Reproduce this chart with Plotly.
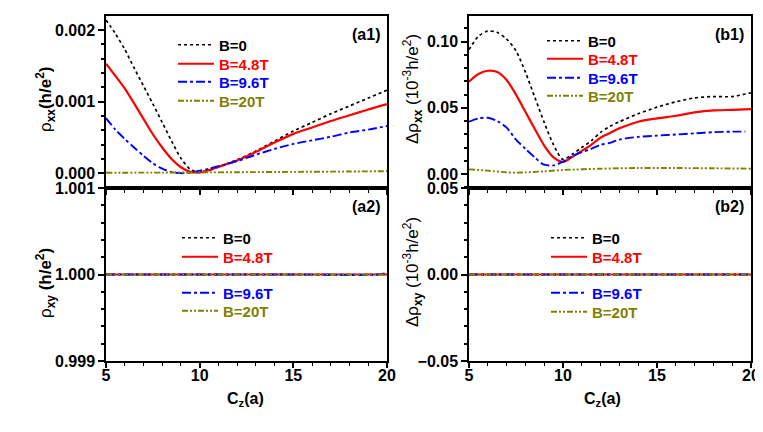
import plotly.graph_objects as go

# ---- data ----
cz_a = [5, 5.5, 6, 6.5, 7, 7.5, 8, 8.5, 9, 9.5, 10, 10.5, 11, 12, 13, 14, 15, 16, 17, 18, 19, 20]
rho_xx_B0 = [0.00214, 0.00195, 0.00173, 0.00147, 0.00122, 0.00097, 0.00071, 0.00045, 0.00021, 0.000056, 0.00001,
             0.00004, 0.00009, 0.00019, 0.00031, 0.00045, 0.00059, 0.00071, 0.00083, 0.00094, 0.00105, 0.00116]
rho_xx_B48 = [0.00153, 0.00136, 0.001185, 0.000975, 0.00076, 0.000545, 0.00036, 0.0002, 0.000085, 0.00002, 0.000015,
              0.000045, 0.00009, 0.00018, 0.0003, 0.00043, 0.00055, 0.00064, 0.00073, 0.00081, 0.00089, 0.000965]
rho_xx_B96 = [0.00077, 0.00061, 0.00048, 0.00036, 0.000245, 0.00014, 0.000065, 0.000018, 0.000002, 0.000012, 0.000035,
              0.000065, 0.0001, 0.00017, 0.00026, 0.00034, 0.00041, 0.00046, 0.00051, 0.00057, 0.00061, 0.00066]
cz_a20 = [5, 8, 10, 12, 15, 18, 20]
rho_xx_B20 = [0.000008, 0.00001, 0.000012, 0.000015, 0.00002, 0.000025, 0.00003]

cz_b = [5, 5.5, 6, 6.5, 7, 7.5, 8, 8.5, 9, 9.5, 10, 10.5, 11, 11.5, 12, 12.5, 13, 14, 15, 16, 17, 18, 19, 20]
drho_xx_B0 = [0.094, 0.104, 0.108, 0.107, 0.102, 0.093, 0.077, 0.058, 0.039, 0.022, 0.011, 0.015, 0.020, 0.025,
              0.0315, 0.036, 0.0395, 0.0455, 0.0505, 0.0545, 0.0575, 0.0585, 0.0585, 0.0614]
drho_xx_B48 = [0.0697, 0.0755, 0.078, 0.077, 0.071, 0.060, 0.047, 0.034, 0.0215, 0.0125, 0.009, 0.013, 0.0175, 0.022,
               0.0275, 0.031, 0.0345, 0.0395, 0.042, 0.044, 0.0465, 0.048, 0.0485, 0.049]
cz_b96 = [5, 5.5, 6, 6.5, 7, 7.5, 8, 8.5, 9, 9.5, 10, 10.5, 11, 11.5, 12, 12.5, 13, 14, 15, 16, 17, 18, 19, 19.7]
drho_xx_B96 = [0.0395, 0.042, 0.0425, 0.040, 0.035, 0.026, 0.019, 0.0125, 0.007, 0.0065, 0.0093, 0.0135, 0.0165, 0.019,
               0.022, 0.0235, 0.026, 0.028, 0.029, 0.0298, 0.0307, 0.0316, 0.032, 0.032]
cz_b20 = [5, 6, 7, 7.5, 8, 9, 10, 12, 14, 16, 18, 20]
drho_xx_B20 = [0.0035, 0.0025, 0.0012, 0.001, 0.0012, 0.002, 0.003, 0.004, 0.0045, 0.0045, 0.0043, 0.004]

cz_low = [5, 10, 15, 19.5, 20]
rho_xy_B0 = [1.0, 1.0, 1.0, 1.0, 1.0]
rho_xy_B48 = [1.0, 1.0, 1.0, 1.0, 1.0]
rho_xy_B96 = [1.0, 1.0, 1.0, 1.0, 1.00002]
rho_xy_B20 = [1.0, 1.0, 1.0, 1.0, 1.0]
drho_xy_B0 = [0.0, 0.0, 0.0, 0.0, 0.0]
drho_xy_B48 = [0.0, 0.0, 0.0, 0.0, 0.0]
drho_xy_B96 = [0.0, 0.0, 0.0, 0.0, 0.0]
drho_xy_B20 = [0.0, 0.0, 0.0, 0.0, 0.0]

labels = ["B=0", "B=4.8T", "B=9.6T", "B=20T"]
colors = ["#000000", "#FF0000", "#0000FF", "#808000"]
dashes = ["dot", "solid", "dashdot", "6px,2px,2px,2px,2px,2px"]
widths = [1.7, 2.2, 1.9, 1.9]

FONT = "Liberation Sans, Arial, sans-serif"
# the page body has an 8px margin, so the figure is drawn 8px in and is 8px smaller
OFF = 8
W, H = 763 - OFF, 432 - OFF


def fx(px):
    return (px - OFF) / W


def fy(py):
    return 1 - (py - OFF) / H


fig = go.Figure()

# one legend per entry so each entry can sit where the reference has it
# (left px of the legend box, centre px of the entry, in page pixels)
leg_xy = {
    "a1": [(173, 45), (173, 64), (173, 82), (173, 101)],
    "a2": [(177, 238), (177, 257), (177, 293), (177, 311)],
    "b1": [(542, 41), (542, 59), (542, 78), (542, 96)],
    "b2": [(546, 238), (546, 257), (546, 293), (546, 312)],
}
legfont = dict(family=FONT, size=15, weight="bold")
leg_count = [0]


def add_set(panel, xs, ys, xa, ya):
    for k in range(4):
        leg_count[0] += 1
        key = "legend" if leg_count[0] == 1 else "legend%d" % leg_count[0]
        px_x, px_y = leg_xy[panel][k]
        fig.update_layout({key: dict(x=fx(px_x), y=fy(px_y), xanchor="left", yanchor="middle",
                                     bgcolor="rgba(0,0,0,0)", font=legfont, itemwidth=36)})
        fig.add_trace(go.Scatter(
            x=xs[k], y=ys[k], xaxis=xa, yaxis=ya, mode="lines",
            name="<span style='color:%s'>%s</span>" % (colors[k], labels[k]),
            line=dict(color=colors[k], dash=dashes[k], width=widths[k], shape="spline", smoothing=0.8),
            legend=key,
        ))


add_set("a1", [cz_a, cz_a, cz_a, cz_a20], [rho_xx_B0, rho_xx_B48, rho_xx_B96, rho_xx_B20], "x", "y")
add_set("a2", [cz_low] * 4, [rho_xy_B0, rho_xy_B48, rho_xy_B96, rho_xy_B20], "x2", "y2")
add_set("b1", [cz_b, cz_b, cz_b96, cz_b20], [drho_xx_B0, drho_xx_B48, drho_xx_B96, drho_xx_B20], "x3", "y3")
add_set("b2", [cz_low] * 4, [drho_xy_B0, drho_xy_B48, drho_xy_B96, drho_xy_B20], "x4", "y4")

left_dom = [fx(106), fx(387)]
right_dom = [fx(469), fx(751)]
top_dom = [fy(188), fy(16)]
bot_dom = [fy(361), fy(188)]

tickfont = dict(family=FONT, size=16, color="black", weight="bold")
common = dict(showline=True, linecolor="black", linewidth=1.5, mirror=True, ticks="outside",
              ticklen=6, tickwidth=1.5, tickcolor="black", showgrid=False, zeroline=False,
              tickfont=tickfont, automargin=False)
xcommon = dict(common, range=[5, 20], dtick=5, tick0=5, ticklen=5, ticklabelstandoff=-6,
               minor=dict(dtick=1, ticks="outside", ticklen=3, tickwidth=1.2, tickcolor="black"))

fig.update_layout(
    template="none",
    width=W, height=H, margin=dict(l=0, r=0, t=0, b=0, autoexpand=False),
    paper_bgcolor="white", plot_bgcolor="white",
    xaxis=dict(xcommon, domain=left_dom, anchor="y", showticklabels=False),
    xaxis2=dict(xcommon, domain=left_dom, anchor="y2"),
    xaxis3=dict(xcommon, domain=right_dom, anchor="y3", showticklabels=False),
    xaxis4=dict(xcommon, domain=right_dom, anchor="y4"),
    yaxis=dict(common, domain=top_dom, anchor="x", range=[-0.000205, 0.002195], tick0=0, dtick=0.001,
               tickformat=".3f", minor=dict(dtick=0.0002, ticks="outside", ticklen=3, tickcolor="black")),
    yaxis2=dict(common, domain=bot_dom, anchor="x2", range=[0.99899999, 1.00100001],
                tickvals=[0.999, 1.0, 1.001], tickformat=".3f",
                minor=dict(dtick=0.0002, tick0=0.999, ticks="outside", ticklen=3, tickcolor="black")),
    yaxis3=dict(common, domain=top_dom, anchor="x3", range=[-0.0106, 0.1194], tick0=0, dtick=0.05,
                tickformat=".2f", minor=dict(dtick=0.01, ticks="outside", ticklen=3, tickcolor="black")),
    yaxis4=dict(common, domain=bot_dom, anchor="x4", range=[-0.05000001, 0.05000001],
                tickvals=[-0.05, 0.0, 0.05], tickformat=".2f",
                minor=dict(dtick=0.01, tick0=-0.05, ticks="outside", ticklen=3, tickcolor="black")),
    showlegend=True,
)

# panel tags
for ax, lab in [("", "(a1)"), ("2", "(a2)"), ("3", "(b1)"), ("4", "(b2)")]:
    fig.add_annotation(text="<b>%s</b>" % lab, xref="x%s domain" % ax, yref="y%s domain" % ax,
                       x=1, y=1, xanchor="right", yanchor="top", xshift=-5, yshift=-8,
                       showarrow=False, font=dict(family=FONT, size=16, color="black"))

# axis titles (page px centres)
ytitles = [
    ("ρ<sub><b>xx</b></sub><b>(h/e</b><sup><b>2</b></sup><b>)</b>", 45, 100),
    ("ρ<sub><b>xy</b></sub><b> (h/e</b><sup><b>2</b></sup><b>)</b>", 45, 283),
    ("Δρ<sub><b>xx</b></sub> (10<sup>-3</sup>h/e<sup>2</sup>)", 412, 89),
    ("Δρ<sub><b>xy</b></sub> (10<sup>-3</sup>h/e<sup>2</sup>)", 412, 272),
]
for txt, px_x, px_y in ytitles:
    fig.add_annotation(text=txt, xref="paper", yref="paper", x=fx(px_x), y=fy(px_y),
                       xanchor="center", yanchor="middle", textangle=-90, showarrow=False,
                       font=dict(family=FONT, size=17, color="black"))
for px_x in (245, 602):
    fig.add_annotation(text="<b>C</b><sub><b>z</b></sub><b>(a)</b>", xref="paper", yref="paper",
                       x=fx(px_x), y=fy(399), xanchor="center", yanchor="middle", showarrow=False,
                       font=dict(family=FONT, size=16, color="black"))

fig.write_html("out.html")
